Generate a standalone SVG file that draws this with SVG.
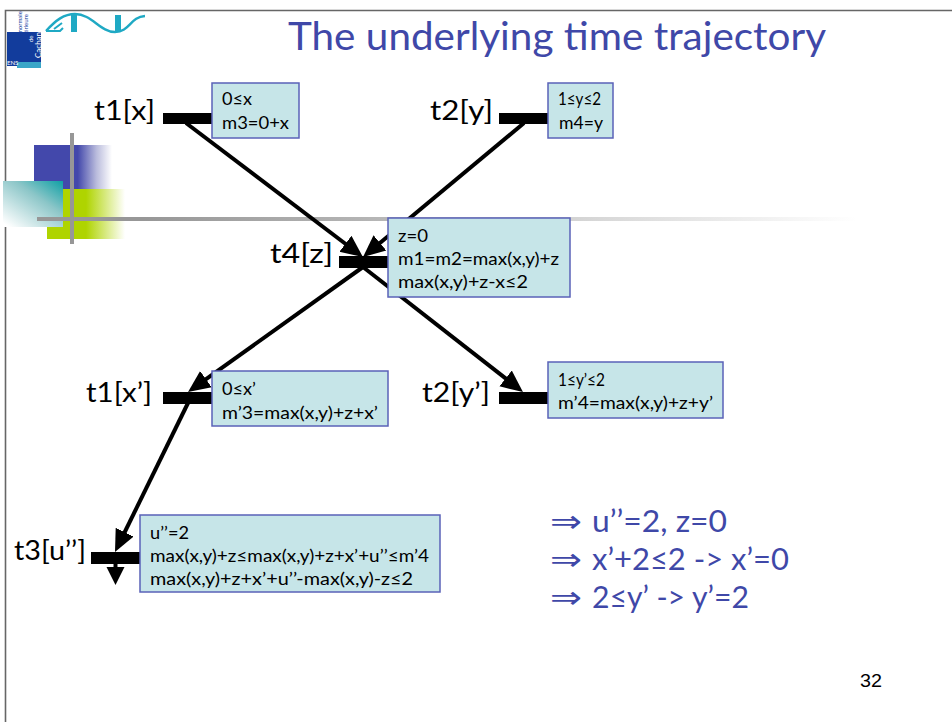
<svg xmlns="http://www.w3.org/2000/svg" width="952" height="722" viewBox="0 0 952 722">
<style>
text{font-family:"Lato","Open Sans","Liberation Sans",sans-serif;fill:#000}
.lab{font-size:26px}
.box{font-size:17px}
.res{font-size:31px;fill:#3f48a8}
.n{fill:#c6e5e8;stroke:#5a62b8;stroke-width:1.5}
.bar{fill:#000}
.c{stroke:#000;stroke-width:4;fill:none}
.logo{font-size:6px;fill:#fff}
</style>
<defs>
<linearGradient id="gb" x1="0" x2="1" y1="0" y2="0"><stop offset="0.56" stop-color="#4348ab"/><stop offset="0.8" stop-color="#b9bbdc"/><stop offset="1" stop-color="#fff"/></linearGradient>
<linearGradient id="gg" x1="0" x2="1" y1="0" y2="0"><stop offset="0.5" stop-color="#afd400"/><stop offset="1" stop-color="#fff"/></linearGradient>
<linearGradient id="gt" x1="1" x2="0.1" y1="0" y2="1"><stop offset="0" stop-color="#0fa0a5"/><stop offset="0.4" stop-color="#8cc6c8"/><stop offset="1" stop-color="#fff"/></linearGradient>
<linearGradient id="gh" x1="0" x2="1" y1="0" y2="0"><stop offset="0.13" stop-color="#979797"/><stop offset="0.4" stop-color="#b4b4b4"/><stop offset="1" stop-color="#fff"/></linearGradient>
<marker id="a" markerUnits="userSpaceOnUse" markerWidth="24" markerHeight="24" refX="2" refY="10" orient="auto" viewBox="0 0 24 20"><path d="M0 0L22 10L0 20Z" fill="#000"/></marker>
<marker id="b" markerUnits="userSpaceOnUse" markerWidth="20" markerHeight="20" refX="2" refY="9" orient="auto" viewBox="0 0 20 18"><path d="M0 0L18 9L0 18Z" fill="#000"/></marker>
</defs>
<g id="frame">
<rect x="0" y="0" width="952" height="722" fill="#fff"/>
<path d="M5.5 722V10.5H952" fill="none" stroke="#666" stroke-width="1.6"/>
</g>
<g id="logo">
<rect x="7" y="32" width="34" height="30" fill="#123c9c"/>
<rect x="17" y="62" width="24" height="6" fill="#3aa6c8"/>
<rect x="7" y="60" width="10" height="6" fill="#123c9c"/>
<text class="logo" transform="translate(22,48) rotate(-90)" style="fill:#123c9c">école normale</text>
<text class="logo" transform="translate(28,42) rotate(-90)" style="fill:#123c9c">supérieure</text>
<text class="logo" transform="translate(33,42) rotate(-90)" style="fill:#fff">de</text>
<text class="logo" transform="translate(41,58) rotate(-90)" style="font-size:8px">Cachan</text>
<text class="logo" x="7" y="65" style="font-size:6px">ENS</text>
<path d="M46 31C56 20 64 14 75 14C92 14 100 32 115 32C130 32 130 17 145 16" fill="none" stroke="#1fa9c4" stroke-width="2.4"/>
<path d="M46 31H60L63 28M54 29L62 23" fill="none" stroke="#1fa9c4" stroke-width="2"/>
<rect x="71" y="15" width="6" height="17" fill="#1fa9c4"/>
<rect x="115" y="15" width="6" height="17" fill="#1fa9c4"/>
</g>
<g id="decoration">
<rect x="34" y="145" width="78" height="44" fill="url(#gb)"/>
<rect x="47" y="189" width="78" height="50" fill="url(#gg)"/>
<rect x="3" y="181" width="60" height="46" fill="url(#gt)"/>
<rect x="37" y="217" width="820" height="4" fill="url(#gh)"/>
<rect x="70" y="133" width="4" height="111" fill="#979797"/>
</g>
<text id="title" x="288" y="50" textLength="538" lengthAdjust="spacingAndGlyphs" style="font-size:38px;fill:#3f48a8">The underlying time trajectory</text>
<g id="connectors">
<path class="c" d="M186 123L347 245" marker-end="url(#a)"/>
<path class="c" d="M524 123L378.4 244.2" marker-end="url(#a)"/>
<path class="c" d="M363 267L204.3 380.4" marker-end="url(#a)"/>
<path class="c" d="M363 267L507.2 379.7" marker-end="url(#a)"/>
<path class="c" d="M188 403L123.8 534" marker-end="url(#a)"/>
<path class="c" d="M115.5 563V569" marker-end="url(#b)"/>
</g>
<g id="t1x"><text class="lab" x="94" y="120" textLength="61" lengthAdjust="spacingAndGlyphs">t1[x]</text><rect class="bar" x="163" y="113" width="49" height="11"/><rect class="n" x="212" y="83" width="87" height="55"/><text class="box" x="222" y="105" textLength="30" lengthAdjust="spacingAndGlyphs">0≤x</text><text class="box" x="222" y="129" textLength="67" lengthAdjust="spacingAndGlyphs">m3=0+x</text></g>
<g id="t2y"><text class="lab" x="430" y="120" textLength="63" lengthAdjust="spacingAndGlyphs">t2[y]</text><rect class="bar" x="499" y="113" width="49" height="11"/><rect class="n" x="548" y="83" width="65" height="55"/><text class="box" x="558" y="105" textLength="43" lengthAdjust="spacingAndGlyphs">1≤y≤2</text><text class="box" x="559" y="129" textLength="44" lengthAdjust="spacingAndGlyphs">m4=y</text></g>
<g id="t4z"><text class="lab" x="270" y="263" textLength="63" lengthAdjust="spacingAndGlyphs">t4[z]</text><rect class="bar" x="339" y="256" width="49" height="12"/><rect class="n" x="388" y="218" width="182" height="79"/><text class="box" x="398" y="242" textLength="30" lengthAdjust="spacingAndGlyphs">z=0</text><text class="box" x="398" y="265" textLength="161" lengthAdjust="spacingAndGlyphs">m1=m2=max(x,y)+z</text><text class="box" x="398" y="288" textLength="130" lengthAdjust="spacingAndGlyphs">max(x,y)+z-x≤2</text></g>
<g id="t1x2"><text class="lab" x="86" y="402" textLength="66" lengthAdjust="spacingAndGlyphs">t1[x’]</text><rect class="bar" x="163" y="392" width="49" height="12"/><rect class="n" x="212" y="371" width="176" height="55"/><text class="box" x="222" y="395" textLength="34" lengthAdjust="spacingAndGlyphs">0≤x’</text><text class="box" x="222" y="419" textLength="156" lengthAdjust="spacingAndGlyphs">m’3=max(x,y)+z+x’</text></g>
<g id="t2y2"><text class="lab" x="422" y="402" textLength="68" lengthAdjust="spacingAndGlyphs">t2[y’]</text><rect class="bar" x="499" y="392" width="49" height="12"/><rect class="n" x="548" y="362" width="175" height="56"/><text class="box" x="558" y="386" textLength="47" lengthAdjust="spacingAndGlyphs">1≤y’≤2</text><text class="box" x="558" y="409" textLength="155" lengthAdjust="spacingAndGlyphs">m’4=max(x,y)+z+y’</text></g>
<g id="t3u"><text class="lab" x="14" y="560" textLength="72" lengthAdjust="spacingAndGlyphs">t3[u’’]</text><rect class="bar" x="91" y="552" width="49" height="12"/><rect class="n" x="140" y="515" width="300" height="77"/><text class="box" x="150" y="539" textLength="39" lengthAdjust="spacingAndGlyphs">u’’=2</text><text class="box" x="150" y="562" textLength="279" lengthAdjust="spacingAndGlyphs">max(x,y)+z≤max(x,y)+z+x’+u’’≤m’4</text><text class="box" x="150" y="585" textLength="263" lengthAdjust="spacingAndGlyphs">max(x,y)+z+x’+u’’-max(x,y)-z≤2</text></g>
<g id="result">
<text class="res" x="550" y="532" textLength="32" lengthAdjust="spacingAndGlyphs" style="font-family:'DejaVu Sans',sans-serif">⇒</text><text class="res" x="592" y="532" textLength="135" lengthAdjust="spacingAndGlyphs">u’’=2, z=0</text>
<text class="res" x="550" y="570" textLength="32" lengthAdjust="spacingAndGlyphs" style="font-family:'DejaVu Sans',sans-serif">⇒</text><text class="res" x="592" y="570" textLength="197" lengthAdjust="spacingAndGlyphs">x’+2≤2 -&gt; x’=0</text>
<text class="res" x="550" y="608" textLength="32" lengthAdjust="spacingAndGlyphs" style="font-family:'DejaVu Sans',sans-serif">⇒</text><text class="res" x="592" y="608" textLength="157" lengthAdjust="spacingAndGlyphs">2≤y’ -&gt; y’=2</text>
</g>
<text id="page" x="860" y="687" textLength="22" lengthAdjust="spacingAndGlyphs" style="font-size:18px;font-family:'Liberation Sans',sans-serif">32</text>
</svg>
